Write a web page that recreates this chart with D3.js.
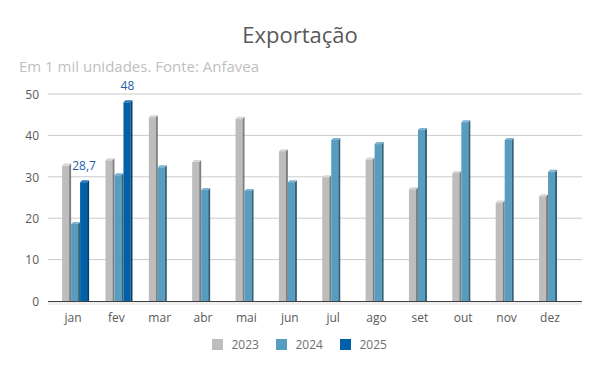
<!DOCTYPE html>
<html><head><meta charset="utf-8">
<script src="https://cdn.jsdelivr.net/npm/d3@7"></script>
<style>body{margin:0;background:#fff}svg{display:block}</style>
</head><body>
<script>
const months = ["jan","fev","mar","abr","mai","jun","jul","ago","set","out","nov","dez"];
const series = ["2023","2024","2025"];
const v2023 = [32.7,34.0,44.4,33.6,44.0,36.2,29.9,34.2,27.0,30.9,23.8,25.3];
const v2024 = [18.6,30.4,32.3,26.8,26.6,28.7,38.9,37.9,41.3,43.2,38.9,31.2];
const v2025 = [28.7,48.0,null,null,null,null,null,null,null,null,null,null];
const yTicks = [0,10,20,30,40,50];
const labels2025 = ["28,7","48"];

const W=600,H=371;
const colors = {
  "2023": {front:"#bdbdbd", side:"#7f7f7f", top:"#d6d6d6"},
  "2024": {front:"#579dc0", side:"#35627a", top:"#7cb5d2"},
  "2025": {front:"#0060a8", side:"#003f70", top:"#2a7cc0"}
};
const svg = d3.select("body").append("svg").attr("width",W).attr("height",H);
const font = "'Open Sans', sans-serif";

svg.append("text").attr("x",300).attr("y",43).attr("text-anchor","middle")
  .attr("font-family",font).attr("font-size",22).attr("fill","#595959").text("Exportação");
svg.append("text").attr("x",19).attr("y",72)
  .attr("font-family",font).attr("font-size",15).attr("fill","#bfbfbf").text("Em 1 mil unidades. Fonte: Anfavea");

const x = d3.scaleBand().domain(months).range([51.3,571.6]);
const y = d3.scaleLinear().domain([0,50]).range([301,94]);
const xs = d3.scaleBand().domain(series).range([0,27]);

// floor
svg.append("rect").attr("x",48).attr("y",301).attr("width",534).attr("height",4).attr("fill","#f0f0f0");

const grid = svg.append("g");
yTicks.filter(t=>t>0).forEach(t=>{
  grid.append("line").attr("x1",48).attr("x2",582).attr("y1",y(t)).attr("y2",y(t))
    .attr("stroke","#cccccc").attr("stroke-width",1);
});

const yAxis = d3.axisLeft(y).tickValues(yTicks).tickSize(0).tickPadding(0);
const ga = svg.append("g").attr("transform","translate(39,0)").call(yAxis);
ga.select(".domain").remove();
ga.selectAll("text").attr("font-family",font).attr("font-size",12).attr("fill","#595959").attr("dy","0.35em");

const xAxis = d3.axisBottom(x).tickSize(0).tickPadding(0);
const gx = svg.append("g").attr("transform","translate(0,318)").call(xAxis);
gx.select(".domain").remove();
gx.selectAll("text").attr("font-family",font).attr("font-size",12).attr("fill","#595959").attr("dy","0.35em");

const data = {"2023":v2023,"2024":v2024,"2025":v2025};
const bw=7, dep=2;
const off = 10.8;
const bars = svg.append("g");
series.forEach(s=>{
  data[s].forEach((v,i)=>{
    if(v==null) return;
    const x0 = x(months[i]) + off + xs(s);
    const yt = y(v), yb = y(0);
    const c = colors[s];
    bars.append("rect").attr("x",x0).attr("y",yt).attr("width",bw).attr("height",yb-yt).attr("fill",c.front);
    bars.append("path").attr("d",`M${x0+bw},${yt}L${x0+bw+dep},${yt-dep}L${x0+bw+dep},${yb}L${x0+bw},${yb}Z`).attr("fill",c.side);
    bars.append("path").attr("d",`M${x0},${yt}L${x0+dep},${yt-dep}L${x0+bw+dep},${yt-dep}L${x0+bw},${yt}Z`).attr("fill",c.top);
  });
});
// axis line
svg.append("line").attr("x1",48).attr("x2",582).attr("y1",301.5).attr("y2",301.5).attr("stroke","#404040").attr("stroke-width",1);

// data labels 2025
v2025.forEach((v,i)=>{
  if(v==null) return;
  const x0 = x(months[i]) + off + xs("2025") + bw/2 + 0.5;
  svg.append("text").attr("x",x0).attr("y",y(v)-12).attr("text-anchor","middle")
    .attr("font-family",font).attr("font-size",12).attr("fill","#1f5fa8").text(labels2025[i]);
});

// legend
const lg = svg.append("g");
const lx = [212,276,340];
series.forEach((s,i)=>{
  lg.append("rect").attr("x",lx[i]).attr("y",339).attr("width",11).attr("height",11).attr("fill",colors[s].front);
  lg.append("text").attr("x",lx[i]+19.5).attr("y",344.5).attr("dy","0.35em")
    .attr("font-family",font).attr("font-size",12).attr("fill","#6f6f6f").text(s);
});
</script>
</body></html>
